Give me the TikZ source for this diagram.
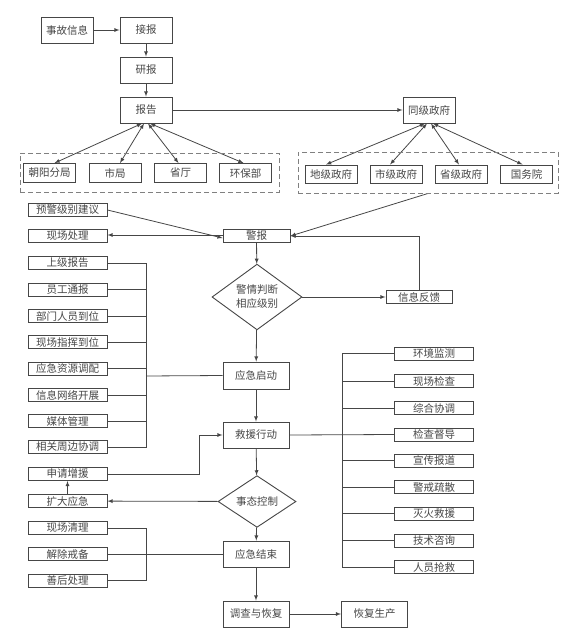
\documentclass[tikz,border=0pt]{standalone}
\usepackage{fontspec}
\usepackage{xcolor}
\usepackage{tikz}
\usetikzlibrary{shapes.geometric}
\newfontfamily\cjk{Noto Sans CJK SC}
\definecolor{inkgray}{RGB}{70,70,70}
\tikzstyle{box}=[fill=white, draw=inkgray, line width=0.9pt, shape=rectangle, inner sep=0pt, font=\cjk\fontsize{10.5}{12}\selectfont, text=inkgray, minimum width=52pt, minimum height=26pt]
\tikzstyle{mid box}=[style=box, minimum width=66pt, minimum height=26pt]
\tikzstyle{list box}=[style=box, minimum width=79pt, minimum height=13pt]
\tikzstyle{small box}=[style=box, minimum width=52pt, minimum height=19pt]
\tikzstyle{group}=[draw=gray, line width=0.9pt, dashed, dash pattern=on 5pt off 3pt, shape=rectangle, inner sep=0pt]
\tikzstyle{choice}=[fill=white, draw=inkgray, line width=0.9pt, shape=diamond, inner sep=0pt, font=\cjk\fontsize{10.5}{14}\selectfont, text=inkgray, align=center]
\tikzstyle{arrow edge}=[-latex, draw=inkgray, line width=0.8pt]
\tikzstyle{both edge}=[latex-latex, draw=inkgray, line width=0.8pt]
\tikzstyle{plain edge}=[-, draw=inkgray, line width=0.8pt]
\pgfdeclarelayer{nodelayer}
\pgfdeclarelayer{edgelayer}
\pgfsetlayers{edgelayer,nodelayer,main}

\begin{document}
\begin{tikzpicture}[x=1pt, y=-1pt]
	\useasboundingbox (0, 0) rectangle (580, 639);
	\begin{pgfonlayer}{nodelayer}
		\node [style=box] (0) at (67, 30) {事故信息};
		\node [style=box] (1) at (146, 30) {接报};
		\node [style=box] (2) at (146, 70) {研报};
		\node [style=box] (3) at (146, 110) {报告};
		\node [style=box] (4) at (429, 110) {同级政府};
		\node [style=group, minimum width=259pt, minimum height=39pt] (5) at (149.5, 172.5) {};
		\node [style=small box] (6) at (49.5, 173) {朝阳分局};
		\node [style=small box] (7) at (115, 173) {市局};
		\node [style=small box] (8) at (180.5, 173) {省厅};
		\node [style=small box] (9) at (245.5, 173) {环保部};
		\node [style=group, minimum width=260pt, minimum height=41pt] (10) at (428, 172.5) {};
		\node [style=small box, minimum height=18pt] (11) at (331, 174) {地级政府};
		\node [style=small box, minimum height=18pt] (12) at (396, 174) {市级政府};
		\node [style=small box, minimum height=18pt] (13) at (461, 174) {省级政府};
		\node [style=small box, minimum height=18pt] (14) at (526.5, 174) {国务院};
		\node [style=list box] (15) at (67.5, 210) {预警级别建议};
		\node [style=list box] (16) at (67.5, 236) {现场处理};
		\node [style=list box, minimum width=67pt] (17) at (256.5, 236) {警报};
		\node [style=choice, minimum width=90pt, minimum height=54pt] (18) at (257, 297) {警情判断\\相应级别};
		\node [style=list box, minimum width=66pt] (19) at (419, 297) {信息反馈};
		\node [style=list box] (20) at (67.5, 263) {上级报告};
		\node [style=list box] (21) at (67.5, 289.5) {员工通报};
		\node [style=list box] (22) at (67.5, 316) {部门人员到位};
		\node [style=list box] (23) at (67.5, 342) {现场指挥到位};
		\node [style=list box] (24) at (67.5, 368.5) {应急资源调配};
		\node [style=list box] (25) at (67.5, 395) {信息网络开展};
		\node [style=list box] (26) at (67.5, 421) {媒体管理};
		\node [style=list box] (27) at (67.5, 447) {相关周边协调};
		\node [style=mid box, minimum height=27pt] (28) at (256, 375.5) {应急启动};
		\node [style=mid box] (29) at (256, 435) {救援行动};
		\node [style=list box] (30) at (67.5, 474) {申请增援};
		\node [style=list box] (31) at (67.5, 501) {扩大应急};
		\node [style=choice, minimum width=78pt, minimum height=39pt] (32) at (257, 501.5) {事态控制};
		\node [style=list box] (33) at (67.5, 528) {现场清理};
		\node [style=list box] (34) at (67.5, 554) {解除戒备};
		\node [style=list box] (35) at (67.5, 580.5) {善后处理};
		\node [style=mid box] (36) at (256, 554) {应急结束};
		\node [style=mid box] (37) at (256, 614) {调查与恢复};
		\node [style=mid box] (38) at (374.5, 614) {恢复生产};
		\node [style=list box] (39) at (434, 353.5) {环境监测};
		\node [style=list box] (40) at (434, 381) {现场检查};
		\node [style=list box] (41) at (434, 408) {综合协调};
		\node [style=list box] (42) at (434, 434.5) {检查督导};
		\node [style=list box] (43) at (434, 460.5) {宣传报道};
		\node [style=list box] (44) at (434, 487) {警戒疏散};
		\node [style=list box] (45) at (434, 513.5) {灭火救援};
		\node [style=list box] (46) at (434, 540.5) {技术咨询};
		\node [style=list box] (47) at (434, 567) {人员抢救};
		\coordinate (48) at (146, 376);
		\coordinate (49) at (146, 554);
		\coordinate (50) at (342, 434.5);
		\coordinate (51) at (199, 435);
	\end{pgfonlayer}
	\begin{pgfonlayer}{edgelayer}
		\draw [style=arrow edge] (0) to (1);
		\draw [style=arrow edge] (1) to (2);
		\draw [style=arrow edge] (2) to (3);
		\draw [style=arrow edge] (3) to (4);
		\draw [style=both edge] ([xshift=-4pt]3.south) to ([xshift=5pt]6.north);
		\draw [style=both edge] ([xshift=-2pt]3.south) to ([xshift=5pt]7.north);
		\draw [style=both edge] ([xshift=2pt]3.south) to ([xshift=-2pt]8.north);
		\draw [style=both edge] ([xshift=4pt]3.south) to ([xshift=-2pt]9.north);
		\draw [style=both edge] ([xshift=-4pt]4.south) to ([xshift=-5pt]11.north);
		\draw [style=both edge] ([xshift=-2pt]4.south) to ([xshift=-6pt]12.north);
		\draw [style=both edge] ([xshift=2pt]4.south) to ([xshift=-2pt]13.north);
		\draw [style=both edge] ([xshift=4pt]4.south) to ([xshift=-4pt]14.north);
		\draw [style=arrow edge] (10.south) to (17.east);
		\draw [style=arrow edge] (15.east) to ([yshift=-2pt]17.west);
		\draw [style=arrow edge] ([yshift=1pt]17.west) to ([yshift=1pt]16.east);
		\draw [style=arrow edge] (17) to (18);
		\draw [style=arrow edge] (18) to (19);
		\draw [style=arrow edge] (19.north) |- (17.east);
		\draw [style=plain edge] (20.east) -| (48);
		\draw [style=plain edge] (21.east) -| (48);
		\draw [style=plain edge] (22.east) -| (48);
		\draw [style=plain edge] (23.east) -| (48);
		\draw [style=plain edge] (24.east) -| (48);
		\draw [style=plain edge] (25.east) -| (48);
		\draw [style=plain edge] (26.east) -| (48);
		\draw [style=plain edge] (27.east) -| (48);
		\draw [style=plain edge] (48) to (28.west);
		\draw [style=arrow edge] (18) to (28);
		\draw [style=arrow edge] (28) to (29);
		\draw [style=arrow edge] (30.east) -| (51) to (29.west);
		\draw [style=arrow edge] (31) to (30);
		\draw [style=arrow edge] (29) to (32);
		\draw [style=arrow edge] (32) to (31);
		\draw [style=arrow edge] (32) to (36);
		\draw [style=plain edge] (33.east) -| (49);
		\draw [style=plain edge] (34.east) -| (49);
		\draw [style=plain edge] (35.east) -| (49);
		\draw [style=plain edge] (49) to (36.west);
		\draw [style=arrow edge] (36) to (37);
		\draw [style=arrow edge] (37) to (38);
		\draw [style=plain edge] (29.east) to (42.west);
		\draw [style=plain edge] (39.west) -| (50);
		\draw [style=plain edge] (40.west) -| (50);
		\draw [style=plain edge] (41.west) -| (50);
		\draw [style=plain edge] (43.west) -| (50);
		\draw [style=plain edge] (44.west) -| (50);
		\draw [style=plain edge] (45.west) -| (50);
		\draw [style=plain edge] (46.west) -| (50);
		\draw [style=plain edge] (47.west) -| (50);
	\end{pgfonlayer}
\end{tikzpicture}
\end{document}
